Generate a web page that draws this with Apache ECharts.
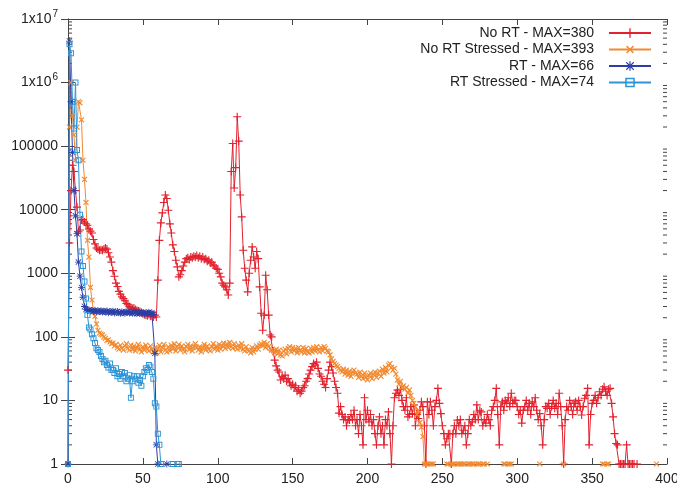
<!DOCTYPE html>
<html>
<head>
<meta charset="utf-8">
<script src="https://cdn.jsdelivr.net/npm/echarts@6/dist/echarts.min.js"></script>
<style>
  html, body { margin: 0; padding: 0; background: #fff; }
  #chart { width: 677px; height: 489px; }
</style>
</head>
<body>
<div id="chart"></div>
<script>
// latency histogram, one value per x (index = x), null = no sample
var seriesNames = ['No RT - MAX=380', 'No RT Stressed - MAX=393', 'RT - MAX=66', 'RT Stressed - MAX=74'];

var noRt = [
  30, 3000, 20000, 50000, 40000, 20000, 11000, 4500, 4800, 6900,
  7000, 6400, 6000, 5700, 5000, 4600, 4300, 3400, 2900, 2500,
  2400, 2300, 2350, 2300, 2400, 2500, 2400, 2100, 1800, 1500,
  1100, 900, 700, 620, 520, 470, 425, 400, 370, 335,
  320, 300, 290, 280, 285, 270, 260, 255, 250, 240,
  230, 225, 220, 215, 225, 210, 215, 205, 220, 205,
  780, 3300, 6200, 8900, 13000, 17000, 15000, 9800, 6000, 4300,
  2800, 2200, 1600, 1260, 880, 950, 1100, 1300, 1500, 1700,
  1750, 1650, 1800, 1750, 1850, 1800, 1900, 1750, 1850, 1700,
  1800, 1650, 1700, 1550, 1600, 1450, 1500, 1350, 1300, 1200,
  1150, 1000, 880, 700, 650, 610, 550, 455, 700, 40000,
  110000, 22000, 46000, 290000, 120000, 17000, 7700, 2300, 1200, 780,
  510, 1000, 1600, 2600, 1800, 1200, 2200, 1700, 610, 235,
  127, 220, 930, 550, 220, 107, 100, 60, 43, 35,
  30, 28, 21, 24, 22, 25, 20, 22, 19, 17,
  18, 16, 17, 14, 15, 13, 14, 16, 17, 20,
  22, 26, 30, 34, 38, 36, 40, 32, 26, 24,
  20, 18, 16, 22, 30, 40, 34, 27, 20, 16,
  13, 6.3, 8, 6, 5, 5.5, 4, 5, 4.9, 6,
  5, 7, 4, 5, 3, 6, 4, 2, 11, 5,
  7, 4.6, 6, 4, 5, 3, 2, 4, 5.5, 3,
  4, 2, 5, 4, 6.6, 3, 1, 4, 11, 13,
  14.5, 12, 15, 10, 8, 7, 11, 5.5, 6, 8,
  6.2, 8.5, 4, 6, 5.2, 7, 9.5, 8, 4, 1,
  9.5, 6, 9.5, 7, 4, 8, 10, 15.5, 9, 6.2,
  4, 3, 2, 2.5, 3, 3, 1, 3, 4, 3,
  4.9, 4, 5, 3, 3.4, 4, 2, 3, 5, 4,
  4.6, 6, 5, 8.5, 5, 7, 6.6, 4, 5, 4.4,
  6, 5, 4, 7, 8, 10, 15.5, 6, 2, 8,
  9.5, 7, 10, 9, 11, 8, 13, 9, 10, 10,
  8, 6, 7, 4.4, 7, 8, 10, 7, 9, 6,
  9.5, 8, 11, 7, 5, 6.2, 4, 2, 5, 8,
  7.5, 9, 6, 8, 10, 7.5, 9, 6, 13, 8,
  4, 1, 5, 8, 7, 10, 8, 6, 9, 9.5,
  7, 10, 8, 5.9, 8, 10.8, 12, 15.5, 2, 6,
  9, 10, 12, 9, 11, 13.7, 12, 15, 16.4, 14,
  12, 15, 15.5, 9, 5.5, 3, 2.1, 2, 1, 1,
  1, 1, 1, 2, 1, 1, 1, 1, 1, null,
  1
];

var noRtStressed = [
  1, 200000, 1000000, 300000, 150000, 60000, 200000, 500000, 480000, 260000,
  60000, 30000, 13000, 3300, 1800, 600, 380, 260, 210, 160,
  127, 115, 110, 107, 100, 95, 88, 90, 83, 78,
  80, 72, 76, 68, 64, 74, 66, 62, 72, 78,
  66, 62, 74, 63, 72, 60, 68, 76, 64, 58,
  70, 62, 74, 64, 60, 72, 63, 58, 68, 56,
  64, 74, 58, 68, 76, 62, 58, 70, 60, 74,
  64, 78, 60, 70, 76, 62, 72, 64, 58, 70,
  76, 63, 72, 60, 70, 78, 68, 62, 70, 58,
  66, 76, 62, 72, 64, 60, 70, 78, 64, 72,
  62, 76, 64, 72, 80, 66, 78, 68, 82, 70,
  66, 78, 68, 64, 74, 66, 78, 64, 60, 70,
  62, 60, 56, 68, 58, 64, 72, 64, 74, 78,
  72, 82, 68, 78, 70, 66, 62, 60, 56, 64,
  54, 62, 52, 50, 60, 64, 54, 66, 70, 58,
  68, 60, 66, 56, 68, 60, 58, 68, 56, 66,
  58, 56, 66, 58, 68, 60, 70, 62, 58, 68,
  60, 70, 66, 60, 58, 52, 45, 41, 38, 36,
  34, 32, 30, 28, 31, 26, 30, 25, 29, 24,
  28, 30, 27, 26, 23, 28, 24, 22, 27, 23,
  21, 25, 27, 22, 26, 28, 23, 27, 29, 24,
  31, 27, 33, 28, 36, 38, 33, 30, 32, 26,
  21, 18, 20, 16, 17, 15, 16, 13, 14.6, 12,
  10, 9, 8, 6, 7, 4.5, 3.8, 2.7, 1, 1,
  1, null, 1, 1, 1
];
// x positions where the stressed run still had a single sample
var noRtStressedOnes = [
  253, 254, 256, 257, 258, 260, 261, 262, 263, 264, 265, 267, 268, 269, 270, 271,
  273, 274, 275, 277, 278, 280, 291, 292, 294, 295, 296, 315, 331, 357, 358, 360, 361, 393
];

var rt = [
  1, 4500000, 500000, 80000, 20000, 8000, 4200, 1500, 900, 600,
  420, 300, 270, 260, 265, 255, 260, 250, 262, 248,
  255, 250, 258, 245, 252, 248, 255, 240, 250, 245,
  252, 238, 246, 250, 240, 236, 248, 242, 235, 245,
  250, 238, 244, 236, 248, 240, 232, 242, 236, 245,
  238, 230, 240, 235, 244, 232, 240, 225, 55, 2,
  1, null, null, null, null, null, 1
];

var rtStressed = [
  1, 4000000, 2900000, 500000, 190000, 1000000, 87000, 60000, 8300, 2200,
  1300, 740, 400, 220, 140, 130, 110, 95, 80, 66,
  62, 58, 50, 45, 40, 42, 36, 33, 38, 30,
  30, 27, 32, 24, 26, 22, 28, 24, 27, 20,
  22, 25, 11, 20, 24, 22, 24, 19, 21, 17,
  24, 28, 32, 30, 36, 34, 28, 22, 9, 8,
  3, 2, 1, null, null, null, null, null, null, null,
  1, null, null, 1, 1
];

var xMax = 400;
var xStep = 50;
var yTickValues = [1, 10, 100, 1000, 10000, 100000, 1000000, 10000000];
var yTickLabels = ['1', '10', '100', '1000', '10000', '100000', '{a|1x10}{s|6}', '{a|1x10}{s|7}'];
var yMinorTicks = [];
for (var d = 1; d < 1e7; d *= 10) {
  for (var m = 2; m <= 9; m++) yMinorTicks.push(d * m);
}

var colors = ['#e2222e', '#f28a30', '#2b3fa6', '#2e94d8'];
var symbols = [
  'path://M4.3,0H5.7V4.3H10V5.7H5.7V10H4.3V5.7H0V4.3H4.3Z',
  'path://M4.2,0H5.8V4.2H10V5.8H5.8V10H4.2V5.8H0V4.2H4.2Z',
  'path://M4.4,0H5.6V10H4.4Z M0,4.4H10V5.6H0Z M1.5,0.7L9.3,8.5L8.5,9.3L0.7,1.5Z M8.5,0.7L9.3,1.5L1.5,9.3L0.7,8.5Z',
  'path://M0,0H10V10H0Z M1.6,1.6V8.4H8.4V1.6Z'
];
var symbolSizes = [8, 7, 7, 6];
var symbolRotates = [0, 45, 0, 0];

function toPairs(arr) {
  return arr.map(function (v, i) { return [i, v]; });
}

var stressedData = toPairs(noRtStressed);
var last = noRtStressed.length - 1;
noRtStressedOnes.forEach(function (x) {
  if (x - last > 1) stressedData.push([x - 1, null]);
  stressedData.push([x, 1]);
  last = x;
});

var seriesData = [toPairs(noRt), stressedData, toPairs(rt), toPairs(rtStressed)];

var axisColor = '#444';
var font = 'Liberation Sans, Arial, sans-serif';

function yAxisDef(position, showLabel) {
  return {
    type: 'log',
    logBase: 10,
    min: 1,
    max: 1e7,
    position: position,
    axisLine: { show: true, lineStyle: { color: axisColor, width: 1 } },
    splitLine: { show: false },
    axisTick: { show: true, inside: true, length: 7, lineStyle: { color: axisColor } },
    axisLabel: {
      show: showLabel,
      margin: 10,
      color: '#222',
      fontSize: 14,
      fontFamily: font,
      formatter: function (v) {
        var i = yTickValues.indexOf(v);
        return i >= 0 ? yTickLabels[i] : '';
      },
      rich: {
        a: { fontSize: 14, fontFamily: font, color: '#222' },
        s: { fontSize: 10, fontFamily: font, color: '#222', padding: [0, 0, 10, 1] }
      }
    }
  };
}

function xAxisDef(position, showLabel) {
  return {
    type: 'value',
    min: 0,
    max: xMax,
    interval: xStep,
    position: position,
    axisLine: { show: true, lineStyle: { color: axisColor, width: 1 } },
    splitLine: { show: false },
    axisTick: { show: true, inside: true, length: 6, lineStyle: { color: axisColor } },
    axisLabel: {
      show: showLabel,
      margin: 8,
      color: '#222',
      fontSize: 14,
      fontFamily: font
    }
  };
}

// short log minor ticks on both vertical borders, placed through the y scale
function renderMinorTick(params, api) {
  var v = api.value(1);
  var l = api.coord([0, v]);
  var r = api.coord([xMax, v]);
  var style = { stroke: axisColor, lineWidth: 1 };
  return {
    type: 'group',
    children: [
      { type: 'line', shape: { x1: l[0], y1: l[1], x2: l[0] + 4, y2: l[1] }, style: style },
      { type: 'line', shape: { x1: r[0] - 4, y1: r[1], x2: r[0], y2: r[1] }, style: style }
    ]
  };
}

var legendRows = [21, 37.5, 54, 70.5];

var chart = echarts.init(document.getElementById('chart'), null, { renderer: 'canvas' });
chart.setOption({
  animation: false,
  backgroundColor: '#fff',
  grid: { left: 68, right: 10, top: 19, bottom: 25, outerBoundsMode: 'none' },
  legend: seriesNames.map(function (name, i) {
    return {
      data: [name],
      right: 20,
      top: legendRows[i],
      align: 'right',
      itemWidth: 42,
      itemHeight: 12,
      selectedMode: false,
      textStyle: { fontSize: 14, fontFamily: font, color: '#222', padding: [0, 10, 0, 0] }
    };
  }),
  xAxis: [xAxisDef('bottom', true), xAxisDef('top', false)],
  yAxis: [yAxisDef('left', true), yAxisDef('right', false)],
  series: seriesNames.map(function (name, i) {
    return {
      name: name,
      type: 'line',
      xAxisIndex: 0,
      yAxisIndex: 0,
      data: seriesData[i],
      connectNulls: false,
      symbol: symbols[i],
      symbolSize: symbolSizes[i],
      symbolRotate: symbolRotates[i],
      showSymbol: true,
      lineStyle: { color: colors[i], width: 1 },
      itemStyle: { color: colors[i], borderWidth: 0 },
      emphasis: { disabled: true }
    };
  }).concat([{
    type: 'custom',
    name: 'minorTicks',
    xAxisIndex: 0,
    yAxisIndex: 0,
    silent: true,
    renderItem: renderMinorTick,
    data: yMinorTicks.map(function (v) { return [0, v]; }),
    z: 1
  }])
});
</script>
</body>
</html>
